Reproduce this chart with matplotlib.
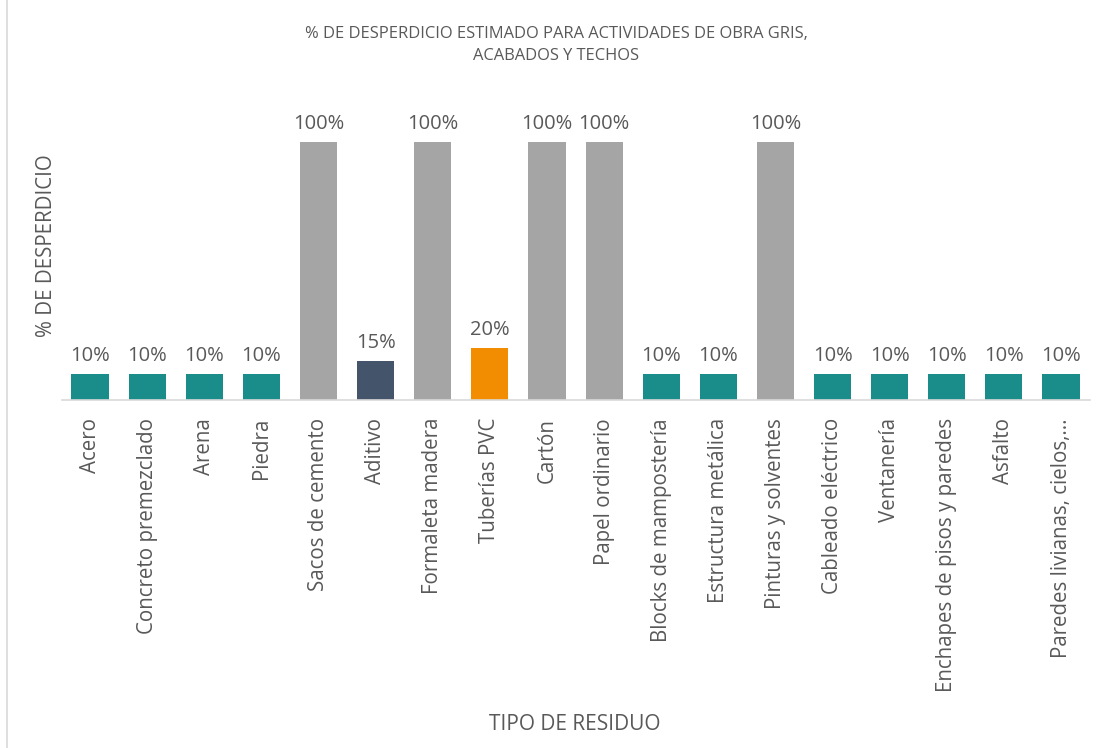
import matplotlib
matplotlib.use("Agg")
import matplotlib.pyplot as plt
from matplotlib.lines import Line2D

categories = ["Acero", "Concreto premezclado", "Arena", "Piedra", "Sacos de cemento",
              "Aditivo", "Formaleta madera", "Tuberías PVC", "Cartón", "Papel ordinario",
              "Blocks de mampostería", "Estructura metálica", "Pinturas y solventes",
              "Cableado eléctrico", "Ventanería", "Enchapes de pisos y paredes", "Asfalto",
              "Paredes livianas, cielos,..."]
values = [0.10, 0.10, 0.10, 0.10, 1.00, 0.15, 1.00, 0.20, 1.00, 1.00,
          0.10, 0.10, 1.00, 0.10, 0.10, 0.10, 0.10, 0.10]
labels = ["10%", "10%", "10%", "10%", "100%", "15%", "100%", "20%", "100%", "100%",
          "10%", "10%", "100%", "10%", "10%", "10%", "10%", "10%"]
colors = ["#1A8C8A"] * 4 + ["#A5A5A5", "#44546A", "#A5A5A5", "#F28C00", "#A5A5A5", "#A5A5A5",
          "#1A8C8A", "#1A8C8A", "#A5A5A5"] + ["#1A8C8A"] * 5

plt.rcParams['font.family'] = ['Open Sans', 'DejaVu Sans']
W, H = 1098, 748
fig = plt.figure(figsize=(W / 100, H / 100), dpi=100)
left, right = 61.5, 1089.6
bottom, top = 400, 400 - 258 * 1.2
ax = fig.add_axes([left / W, 1 - bottom / H, (right - left) / W, (bottom - top) / H])

x = list(range(len(categories)))
ax.bar(x, values, width=0.65, color=colors)
for xi, v, lab in zip(x, values, labels):
    ax.annotate(lab, (xi, v), xytext=(0, 6), textcoords="offset points",
                ha="center", va="bottom", fontsize=14.5, color="#595959")

ax.set_xlim(-0.5, len(categories) - 0.5)
ax.set_ylim(0, 1.2)
ax.set_yticks([])
ax.set_xticks(x)
ax.set_xticklabels(categories, rotation=90, fontsize=14.8, color="#595959")
ax.tick_params(axis="x", length=0, pad=13)
for s in ["top", "right", "left"]:
    ax.spines[s].set_visible(False)
ax.spines["bottom"].set_color("#D9D9D9")
ax.spines["bottom"].set_linewidth(1.2)

fig.text(556 / W, 1 - 45 / H, "% DE DESPERDICIO ESTIMADO PARA ACTIVIDADES DE OBRA GRIS,\nACABADOS Y TECHOS",
         ha="center", va="center", fontsize=11.9, color="#595959", linespacing=1.55)
fig.text(47 / W, 1 - 246 / H, "% DE DESPERDICIO", rotation=90, ha="center", va="center",
         fontsize=14.8, color="#595959")
fig.text(575 / W, 1 - 725 / H, "TIPO DE RESIDUO", ha="center", va="center",
         fontsize=15, color="#595959")
fig.add_artist(Line2D([7 / W, 7 / W], [0, 1], color="#D9D9D9", lw=1.2))

fig.savefig("out.png", dpi=100, facecolor="white")
